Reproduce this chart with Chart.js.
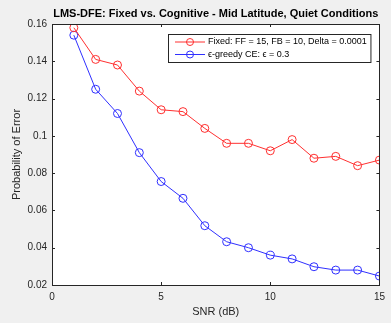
<!DOCTYPE html>
<html>
<head>
<meta charset="utf-8">
<script src="https://cdn.jsdelivr.net/npm/chart.js@4.4.1/dist/chart.umd.min.js"></script>
<style>
  html, body { margin: 0; padding: 0; background: #f0f0f0; }
  #wrap { width: 391px; height: 323px; }
</style>
</head>
<body>
<div id="wrap"><canvas id="chart" width="391" height="323"></canvas></div>
<script>
const snr = [1, 2, 3, 4, 5, 6, 7, 8, 9, 10, 11, 12, 13, 14, 15]
const fixedErr = [0.158, 0.141, 0.138, 0.124, 0.114, 0.113, 0.104, 0.096, 0.096, 0.092, 0.098, 0.088, 0.089, 0.084, 0.087]
const greedyErr = [0.154, 0.125, 0.112, 0.091, 0.0755, 0.0665, 0.0518, 0.0432, 0.040, 0.036, 0.034, 0.0298, 0.028, 0.028, 0.0248]
const seriesNames = ["Fixed: FF = 15, FB = 10, Delta = 0.0001", "\u03f5-greedy CE: \u03f5 = 0.3"]
const titleText = "LMS-DFE: Fixed vs. Cognitive - Mid Latitude, Quiet Conditions"
const xLabel = "SNR (dB)"
const yLabel = "Probability of Error"

const axisColor = "#262626"
const font = "'Liberation Sans', Arial, sans-serif"

// figure bg, white axes, box with inward ticks, titles and legend (MATLAB look)
const matlabLook = {
  id: "matlabLook",
  beforeDraw(chart) {
    const { ctx, chartArea: a } = chart
    ctx.save()
    ctx.fillStyle = "#f0f0f0"
    ctx.fillRect(0, 0, chart.width, chart.height)
    ctx.fillStyle = "#ffffff"
    ctx.fillRect(a.left, a.top, a.right - a.left, a.bottom - a.top)
    ctx.restore()
  },
  afterDraw(chart) {
    const { ctx, chartArea: a, scales } = chart
    ctx.save()
    ctx.strokeStyle = axisColor
    ctx.lineWidth = 1
    ctx.strokeRect(Math.round(a.left) + 0.5, Math.round(a.top) + 0.5,
      Math.round(a.right - a.left), Math.round(a.bottom - a.top))

    const tl = 3
    ctx.beginPath()
    scales.x.ticks.forEach((t) => {
      const px = Math.round(scales.x.getPixelForValue(t.value)) + 0.5
      ctx.moveTo(px, a.bottom); ctx.lineTo(px, a.bottom - tl)
      ctx.moveTo(px, a.top); ctx.lineTo(px, a.top + tl)
    })
    scales.y.ticks.forEach((t) => {
      const py = Math.round(scales.y.getPixelForValue(t.value)) + 0.5
      ctx.moveTo(a.left, py); ctx.lineTo(a.left + tl, py)
      ctx.moveTo(a.right, py); ctx.lineTo(a.right - tl, py)
    })
    ctx.stroke()

    // title
    ctx.fillStyle = "#000"
    ctx.font = "bold 11px " + font
    ctx.textAlign = "center"
    ctx.textBaseline = "middle"
    ctx.fillText(titleText, (a.left + a.right) / 2, 14)

    // axis labels
    ctx.fillStyle = axisColor
    ctx.font = "11px " + font
    ctx.fillText(xLabel, (a.left + a.right) / 2, 312)
    ctx.save()
    ctx.translate(17, (a.top + a.bottom) / 2)
    ctx.rotate(-Math.PI / 2)
    ctx.fillText(yLabel, 0, 0)
    ctx.restore()

    // legend
    const bx = 168, by = a.top + 10, bw = a.right - 9 - bx, bh = 28
    ctx.fillStyle = "#fff"
    ctx.fillRect(bx, by, bw, bh)
    ctx.strokeStyle = axisColor
    ctx.strokeRect(bx + 0.5, by + 0.5, bw, bh)
    chart.data.datasets.forEach((ds, i) => {
      const y = by + 8 + i * 12.5
      ctx.strokeStyle = ds.borderColor
      ctx.beginPath()
      ctx.moveTo(bx + 7, y); ctx.lineTo(bx + 37, y)
      ctx.stroke()
      ctx.beginPath()
      ctx.arc(bx + 22, y, 3.5, 0, Math.PI * 2)
      ctx.stroke()
      ctx.fillStyle = "#000"
      ctx.font = "9px " + font
      ctx.textAlign = "left"
      ctx.fillText(ds.label, bx + 40, y)
    })
    ctx.restore()
  },
}

new Chart(document.getElementById("chart"), {
  type: "line",
  data: {
    labels: snr,
    datasets: [
      {
        label: seriesNames[0],
        data: snr.map((x, i) => ({ x, y: fixedErr[i] })),
        borderColor: "#ff3030",
        backgroundColor: "transparent",
        borderWidth: 1,
        pointRadius: 4,
        pointBorderWidth: 1,
        pointBackgroundColor: "transparent",
      },
      {
        label: seriesNames[1],
        data: snr.map((x, i) => ({ x, y: greedyErr[i] })),
        borderColor: "#3030ff",
        backgroundColor: "transparent",
        borderWidth: 1,
        pointRadius: 4,
        pointBorderWidth: 1,
        pointBackgroundColor: "transparent",
      },
    ],
  },
  options: {
    responsive: false,
    animation: false,
    layout: { padding: { left: 0, right: 8, top: 24, bottom: 0 } },
    plugins: {
      legend: { display: false },
      title: { display: false },
      tooltip: { enabled: false },
    },
    scales: {
      x: {
        type: "linear",
        min: 0,
        max: 15,
        grid: { display: false, drawTicks: false },
        border: { display: false },
        ticks: {
          stepSize: 5,
          padding: 6,
          color: axisColor,
          font: { family: font, size: 10 },
          maxRotation: 0,
        },
        afterFit: (s) => { s.height = 38 },
      },
      y: {
        min: 0.02,
        max: 0.16,
        grid: { display: false, drawTicks: false },
        border: { display: false },
        ticks: {
          stepSize: 0.02,
          padding: 5,
          color: axisColor,
          font: { family: font, size: 10 },
          callback: (v) => String(+v.toFixed(2)),
        },
        afterFit: (s) => { s.width = 52 },
      },
    },
  },
  plugins: [matlabLook],
})
</script>
</body>
</html>
